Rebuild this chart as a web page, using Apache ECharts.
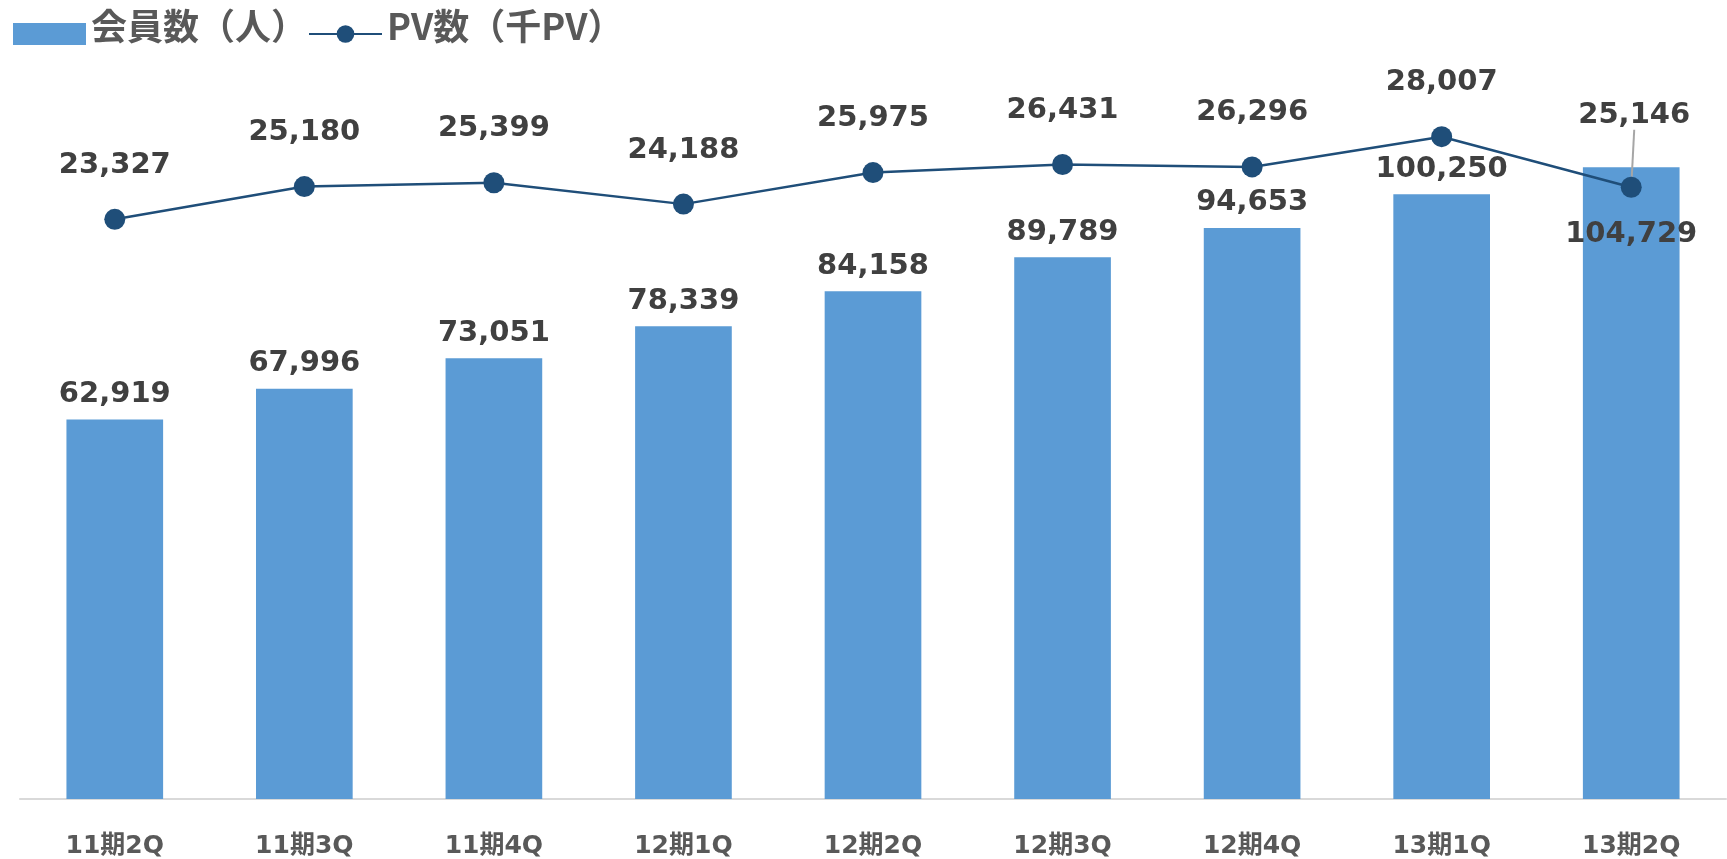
<!DOCTYPE html>
<html>
<head>
<meta charset="utf-8">
<title>会員数・PV数</title>
<script src="https://cdn.jsdelivr.net/npm/echarts@6/dist/echarts.min.js"></script>
<style>
  html, body { margin: 0; padding: 0; background: #fff; }
  #chart { width: 1727px; height: 859px; }
</style>
</head>
<body>
<div id="chart"></div>
<script>
const categories = ['11期2Q', '11期3Q', '11期4Q', '12期1Q', '12期2Q', '12期3Q', '12期4Q', '13期1Q', '13期2Q']
const members = [62919, 67996, 73051, 78339, 84158, 89789, 94653, 100250, 104729]
const pv = [23327, 25180, 25399, 24188, 25975, 26431, 26296, 28007, 25146]

const labelFont = { fontFamily: 'DejaVu Sans, Noto Sans CJK JP', fontWeight: 'bold', fontSize: 29, color: '#404040' }
const fmt = v => v.toLocaleString('en-US')

const chart = echarts.init(document.getElementById('chart'))

const last = members.length - 1

// the last bar's label sits inside the bar, under the PV marker
const memberData = members.map((v, i) =>
  i === last ? { value: v, label: { position: 'insideTop', distance: 53 } } : v
)

// the last PV label is lifted, with a grey leader line
const pvData = pv.map((v, i) =>
  i === last ? { value: v, labelLine: { show: true, lineStyle: { color: '#A6A6A6', width: 2 } } } : v
)

chart.setOption({
  animation: false,
  legend: {
    left: 13,
    top: 8,
    padding: 0,
    itemWidth: 73,
    itemHeight: 22,
    itemGap: 1,
    formatter: name => '{t|' + name + '}',
    textStyle: {
      rich: {
        t: {
          fontFamily: 'Noto Sans CJK JP',
          fontWeight: 'bold',
          fontSize: 36,
          color: '#595959',
          padding: [0, 0, 16, 0]
        }
      }
    },
    data: [{ name: '会員数（人）', icon: 'rect' }, 'PV数（千PV）']
  },
  grid: { left: 20, right: 1, top: 75, bottom: 59 },
  xAxis: {
    type: 'category',
    data: categories,
    axisTick: { show: false },
    axisLine: { lineStyle: { color: '#D9D9D9', width: 2 } },
    axisLabel: {
      margin: 35,
      fontFamily: 'DejaVu Sans, Noto Sans CJK JP',
      fontWeight: 'bold',
      fontSize: 25,
      color: '#595959'
    }
  },
  yAxis: [
    { type: 'value', min: 0, max: 120000, show: false, splitLine: { show: false } },
    { type: 'value', min: -9500, max: 31500, show: false, splitLine: { show: false } }
  ],
  series: [
    {
      name: '会員数（人）',
      type: 'bar',
      data: memberData,
      barCategoryGap: '49%',
      itemStyle: { color: '#5B9BD5' },
      label: {
        show: true,
        position: 'top',
        distance: 10.5,
        formatter: p => fmt(p.value),
        ...labelFont
      }
    },
    {
      name: 'PV数（千PV）',
      type: 'line',
      yAxisIndex: 1,
      data: pvData,
      symbol: 'circle',
      symbolSize: 21,
      lineStyle: { color: '#1F4E79', width: 2.5 },
      itemStyle: { color: '#1F4E79' },
      label: {
        show: true,
        position: 'top',
        distance: 29,
        formatter: p => fmt(p.value),
        ...labelFont
      },
      labelLine: { show: false },
      labelLayout: p => {
        if (p.dataIndex === last) return { dx: 3, dy: -18 }
      },
      z: 3
    }
  ]
})
</script>
</body>
</html>
